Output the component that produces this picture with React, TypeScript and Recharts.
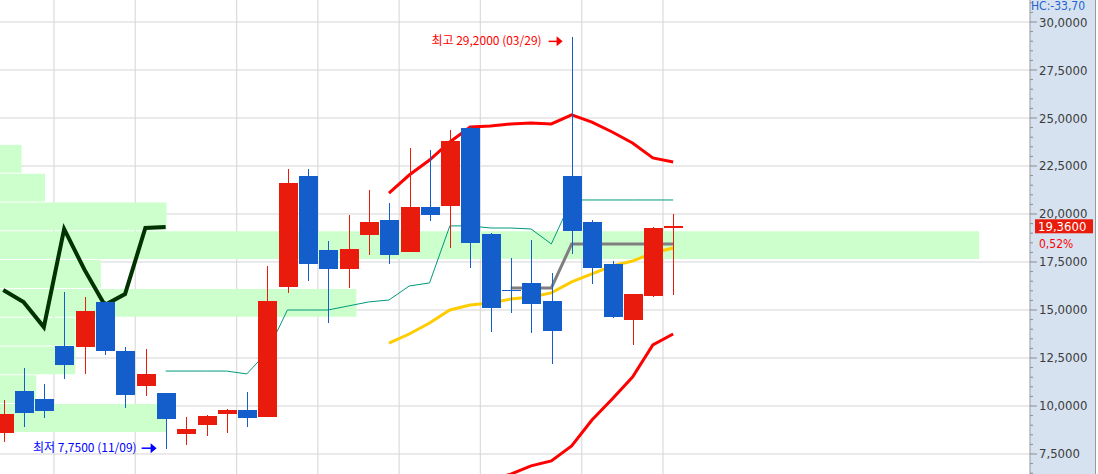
import React from 'react';
import { ComposedChart, XAxis, YAxis, Bar, Line, ReferenceLine, ReferenceArea, ReferenceDot } from 'recharts';

// daily candles, oldest first
const opens = [8.59, 10.78, 10.36, 13.13, 13.07, 15.42, 12.86, 11.04, 10.68, 8.54, 9.01, 9.58, 9.79, 9.43, 16.2, 21.98, 18.13, 17.14, 18.91, 19.69, 18.02, 20.37, 20.42, 24.48, 18.96, 16.06, 16.41, 15.47, 21.98, 19.58, 17.4, 14.48, 15.73, 19.26];
const highs = [10.31, 11.98, 11.15, 15.94, 15.68, 15.45, 13.07, 12.97, 10.7, 9.43, 9.53, 9.82, 10.73, 17.29, 22.34, 22.34, 18.59, 19.95, 21.25, 20.57, 23.44, 23.33, 24.38, 24.58, 19.0, 17.71, 18.65, 16.93, 29.2, 19.69, 17.55, 15.85, 19.32, 20.0];
const lows = [8.13, 8.91, 9.38, 11.41, 11.67, 12.66, 9.9, 10.52, 7.75, 7.97, 8.44, 8.59, 8.91, 9.42, 15.89, 16.51, 14.32, 16.15, 17.86, 17.4, 18.0, 19.64, 18.23, 17.19, 13.85, 14.84, 13.8, 12.19, 17.92, 16.35, 14.6, 13.18, 15.7, 15.78];
const closes = [9.58, 9.64, 9.74, 12.14, 14.95, 12.86, 10.57, 11.67, 9.32, 8.8, 9.48, 9.79, 9.38, 15.47, 21.62, 17.4, 17.14, 18.18, 19.58, 17.86, 20.37, 19.95, 23.8, 18.49, 15.1, 16.02, 15.31, 13.91, 19.12, 17.19, 14.64, 15.83, 19.26, 19.36];

// overlay lines, each starting at a candle index
const greenStart = 0;
const greenLine = [16.04, 15.42, 14.11, 19.22, 17.1, 15.26, 15.83, 19.27, 19.32];
const tealStart = 8;
const tealLine = [11.82, 11.82, 11.82, 11.82, 11.67, 12.81, 15.0, 15.0, 15.0, 15.21, 15.42, 15.52, 16.25, 16.41, 19.38, 19.38, 19.27, 19.27, 19.22, 18.44, 20.73, 20.73, 20.73, 20.73, 20.73, 20.73];
const greyStart = 25;
const greyLine = [16.15, 16.15, 16.15, 18.44, 18.44, 18.44, 18.44, 18.44, 18.44];
const bandStart = 19;
const maLine = [13.28, 13.75, 14.32, 15.0, 15.26, 15.36, 15.57, 15.68, 15.89, 16.46, 16.88, 17.29, 17.55, 17.97, 18.23];
const upperBand = [21.09, 22.03, 22.81, 23.75, 24.53, 24.58, 24.69, 24.74, 24.69, 25.16, 24.79, 24.27, 23.7, 22.92, 22.71];
const lowerBand = [5.47, 5.47, 5.83, 6.25, 5.99, 6.14, 6.45, 6.88, 7.14, 7.92, 9.27, 10.36, 11.51, 13.18, 13.75];

// volume by price
const profileLows = [22.15, 20.65, 19.15, 17.65, 16.15, 14.65, 13.15, 11.65, 10.15, 8.65];
const profileVolume = [2.2, 4.6, 17.0, 100, 10.3, 36.4, 7.7, 7.7, 3.7, 17.0];
const profileStep = 1.5;

const weekStarts = [3, 7, 12, 16, 20, 24, 29, 33];
const majorTicks = [7.5, 10, 12.5, 15, 17.5, 20, 22.5, 25, 27.5, 30];
const axisTicks = Array.from({ length: 50 }, (_, k) => 6.5 + k * 0.5);

const highNote = { idx: 28, price: 29.2, date: '03/29' };
const lowNote = { idx: 8, price: 7.75, date: '11/09' };
const headerText = 'HC:-33,70';

const RED = '#e81b0c';
const BLUE = '#145ecc';
const AXIS_FONT = "'Liberation Sans Narrow', 'DejaVu Sans Condensed', 'Liberation Sans', sans-serif";
const KR_FONT = "'Noto Sans CJK KR', 'Noto Sans', sans-serif";

const fmt = (v: number) => v.toFixed(4).replace('.', ',');

const rows = opens.map((open, i) => ({
  i,
  open,
  high: highs[i],
  low: lows[i],
  close: closes[i],
  green: greenLine[i - greenStart],
  teal: tealLine[i - tealStart],
  grey: greyLine[i - greyStart],
  ma: maLine[i - bandStart],
  upper: upperBand[i - bandStart],
  lower: lowerBand[i - bandStart],
}));

const last = closes[closes.length - 1];
const prev = closes[closes.length - 2];
const change = ((last / prev - 1) * 100).toFixed(2).replace('.', ',') + '%';

const Candle = (props: any) => {
  const { x, y, width, height, payload } = props;
  const top = Math.min(y, y + height);
  const h = Math.abs(height);
  const range = payload.high - payload.low || 1;
  const px = (v: number) => top + ((payload.high - v) / range) * h;
  const up = payload.close >= payload.open;
  const color = up ? RED : BLUE;
  const cx = Math.round(x + width / 2) + 0.5;
  const bTop = px(Math.max(payload.open, payload.close));
  const bBot = px(Math.min(payload.open, payload.close));
  return (
    <g shapeRendering="crispEdges">
      <line x1={cx} x2={cx} y1={top} y2={top + h} stroke={color} strokeWidth={1} />
      <rect x={cx - 9.5} y={bTop} width={19} height={Math.max(1, bBot - bTop)} fill={color} />
    </g>
  );
};

const PriceTick = (props: any) => {
  const { x, y, payload } = props;
  const v = payload.value;
  const major = majorTicks.includes(v);
  return (
    <g>
      <line x1={x} x2={x + (major ? 7 : 3)} y1={y} y2={y} stroke="#8c8c8c" />
      {major && (
        <text x={x + 9} y={y} dy={4.5} fontSize={13} fill="#3c3c3c" fontFamily={AXIS_FONT}>
          {fmt(v)}
        </text>
      )}
    </g>
  );
};

const HighMark = (props: any) => {
  const { cx, cy } = props;
  const c = '#ff0000';
  return (
    <g>
      <text x={cx - 30} y={cy + 7.5} textAnchor="end" fontSize={12} fill={c} fontFamily={KR_FONT}>
        {`최고 ${fmt(highNote.price)} (${highNote.date})`}
      </text>
      <line x1={cx - 23} x2={cx - 14} y1={cy + 4} y2={cy + 4} stroke={c} strokeWidth={1.5} />
      <polygon points={`${cx - 15},${cy - 1} ${cx - 9},${cy + 4} ${cx - 15},${cy + 9}`} fill={c} />
    </g>
  );
};

const LowMark = (props: any) => {
  const { cx, cy } = props;
  const c = '#0000ff';
  return (
    <g>
      <text x={cx - 29} y={cy + 2.5} textAnchor="end" fontSize={12} fill={c} fontFamily={KR_FONT}>
        {`최저 ${fmt(lowNote.price)} (${lowNote.date})`}
      </text>
      <line x1={cx - 24} x2={cx - 14} y1={cy - 1} y2={cy - 1} stroke={c} strokeWidth={1.5} />
      <polygon points={`${cx - 15},${cy - 6} ${cx - 9},${cy - 1} ${cx - 15},${cy + 4}`} fill={c} />
    </g>
  );
};

const PriceTag = (props: any) => {
  const { viewBox } = props;
  const x = viewBox.x + viewBox.width;
  const y = viewBox.y;
  return (
    <g>
      <rect x={x + 5} y={y - 7} width={58} height={14} fill={RED} />
      <text x={x + 8} y={y + 5} fontSize={13} fill="#fff" fontFamily={AXIS_FONT}>{fmt(last)}</text>
      <text x={x + 9} y={y + 22} fontSize={12} fill="#ff0000" fontFamily={AXIS_FONT}>{change}</text>
    </g>
  );
};

export default function App() {
  return (
    <div
      style={{
        position: 'absolute',
        left: 0,
        top: 0,
        width: 1098,
        height: 474,
        background:
          'linear-gradient(to right, #fff 0, #fff 1030px, #d6e2f0 1030px, #d6e2f0 1095px, #9a9a9a 1095px, #9a9a9a 1096px, #fff 1096px)',
      }}
    >
      <ComposedChart width={1098} height={474} data={rows} margin={{ top: 0, right: 0, bottom: 0, left: 0 }}>
        <XAxis xAxisId="idx" dataKey="i" type="number" domain={[-0.16, 50.58]} allowDataOverflow hide />
        <XAxis xAxisId="vol" dataKey={() => 0} type="number" domain={[0, 105.2]} allowDataOverflow hide />
        <YAxis
          yAxisId="p"
          orientation="right"
          type="number"
          domain={[6.458, 31.146]}
          allowDataOverflow
          ticks={axisTicks}
          interval={0}
          tick={<PriceTick />}
          tickLine={false}
          tickSize={0}
          tickMargin={0}
          axisLine={{ stroke: '#999' }}
          width={68}
        />

        {majorTicks.map((t) => (
          <ReferenceLine key={'h' + t} xAxisId="idx" yAxisId="p" y={t} stroke="#d4d4d4" zIndex={-200} />
        ))}
        {weekStarts.map((s) => (
          <ReferenceLine key={'v' + s} xAxisId="idx" yAxisId="p" x={s - 0.5} stroke="#d4d4d4" zIndex={-200} />
        ))}

        {profileLows.map((lo, k) => (
          <ReferenceArea
            key={'pv' + k}
            xAxisId="vol"
            yAxisId="p"
            x1={0}
            x2={profileVolume[k]}
            y1={lo}
            y2={lo + profileStep - 0.05}
            fill="#ccffcc"
            fillOpacity={1}
            stroke="none"
            zIndex={-150}
          />
        ))}

        <Line xAxisId="idx" yAxisId="p" dataKey="green" type="linear" stroke="#003300" strokeWidth={4} dot={false} activeDot={false} isAnimationActive={false} />
        <Line xAxisId="idx" yAxisId="p" dataKey="teal" type="linear" stroke="#00997a" strokeWidth={1} dot={false} activeDot={false} isAnimationActive={false} />
        <Line xAxisId="idx" yAxisId="p" dataKey="grey" type="linear" stroke="#7f7f7f" strokeWidth={3} dot={false} activeDot={false} isAnimationActive={false} />
        <Line xAxisId="idx" yAxisId="p" dataKey="ma" type="linear" stroke="#ffcc00" strokeWidth={3} dot={false} activeDot={false} isAnimationActive={false} />
        <Line xAxisId="idx" yAxisId="p" dataKey="upper" type="linear" stroke="#ff0000" strokeWidth={3} dot={false} activeDot={false} isAnimationActive={false} />
        <Line xAxisId="idx" yAxisId="p" dataKey="lower" type="linear" stroke="#ff0000" strokeWidth={3} dot={false} activeDot={false} isAnimationActive={false} />

        <Bar
          xAxisId="idx"
          yAxisId="p"
          dataKey={(d: any) => [d.low, d.high]}
          shape={<Candle />}
          barSize={19}
          isAnimationActive={false}
          zIndex={1000}
        />

        <ReferenceDot xAxisId="idx" yAxisId="p" x={highNote.idx} y={highNote.price} r={0} shape={(p: any) => <HighMark {...p} />} />
        <ReferenceDot xAxisId="idx" yAxisId="p" x={lowNote.idx} y={lowNote.price} r={0} shape={(p: any) => <LowMark {...p} />} />
        <ReferenceLine xAxisId="idx" yAxisId="p" y={last} stroke="none" label={<PriceTag />} />
      </ComposedChart>
      <div
        style={{
          position: 'absolute',
          left: 1031,
          top: 0,
          fontSize: 12,
          fontFamily: AXIS_FONT,
          color: '#1e64d2',
          lineHeight: '12px',
        }}
      >
        {headerText}
      </div>
    </div>
  );
}
